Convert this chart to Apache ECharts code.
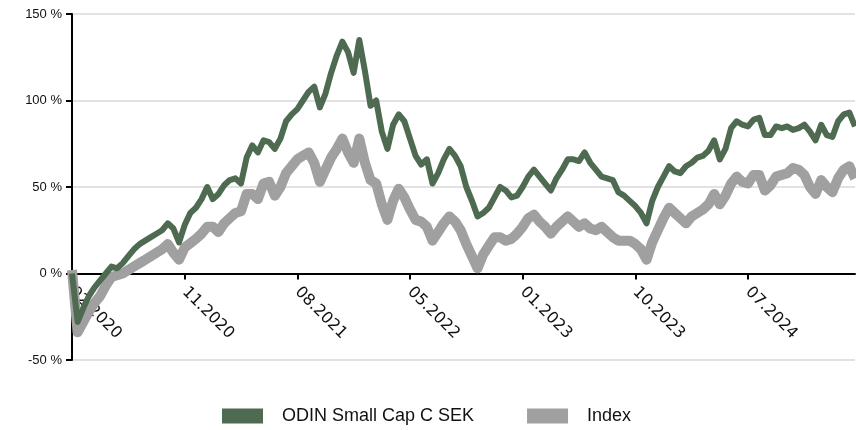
<!DOCTYPE html>
<html>
<head>
<meta charset="utf-8">
<script src="https://cdn.jsdelivr.net/npm/echarts@6/dist/echarts.min.js"></script>
<style>
  html, body { margin: 0; padding: 0; background: #fff; }
  #chart { width: 856px; height: 430px; }
</style>
</head>
<body>
<div id="chart"></div>
<script>
// labels shown under the axis, one every 20 points
const tickLabels = ['02.2020', '11.2020', '08.2021', '05.2022', '01.2023', '10.2023', '07.2024'];
const stepsPerTick = 20;
const yMin = -50, yMax = 150;

// ODIN Small Cap C SEK, development in %
const fundValues = [
  0, -28, -20, -13, -8, -4, 0, 4, 3, 6,
  10, 14, 17, 19, 21, 23, 25, 29, 26, 18,
  28, 35, 38, 43, 50, 43, 46, 51, 54, 55,
  52, 67, 74, 70, 77, 76, 72, 78, 88, 92,
  95, 100, 105, 108, 96, 104, 116, 126, 134, 128,
  116, 135, 117, 97, 100, 82, 72, 86, 92, 88,
  78, 68, 63, 66, 52, 58, 66, 72, 68, 62,
  50, 42, 33, 35, 38, 44, 50, 48, 44, 45,
  50, 56, 60, 56, 52, 48, 55, 60, 66, 66,
  65, 70, 64, 60, 56, 55, 54, 47, 45, 42,
  39, 35, 29, 42, 50, 56, 62, 59, 58, 62,
  64, 67, 68, 71, 77, 66, 72, 84, 88, 86,
  85, 89, 90, 80, 80, 85, 84, 85, 83, 84,
  86, 82, 77, 86, 80, 79, 88, 92, 93, 85
];

// Index, development in %
const indexValues = [
  2, -34, -28, -22, -17, -13, -7, -2, -1, 0,
  2, 4, 6, 8, 10, 12, 14, 17, 12, 8,
  15, 17.5, 20, 23, 27, 27, 24, 29, 32, 35,
  36, 46, 46, 43, 52, 53, 45, 50, 58, 62,
  66, 68, 70, 64, 53, 60, 67, 72, 78, 70,
  64, 78, 64, 54, 52, 40, 31, 42, 49, 44,
  37, 31, 30, 27, 19, 24, 29, 33, 30, 25,
  17, 10, 3, 11, 16, 21, 21, 19, 20, 23,
  27, 32, 34, 30, 27, 23, 27, 30, 33, 30,
  27, 29, 26, 25, 27, 24, 21, 19, 19, 19,
  17, 14, 8, 18, 25, 32, 38, 35, 32, 29,
  33, 35, 37, 40, 46, 40, 45, 52, 56, 53,
  52, 57, 57, 48, 51, 56, 57, 58, 61, 60,
  57, 50, 46, 54, 50, 47, 55, 60, 62, 55
];

const categories = fundValues.map((_, i) =>
  i % stepsPerTick === 0 ? (tickLabels[i / stepsPerTick] || '') : ''
);

const gridTop = 14, gridBottom = 70, chartHeight = 430;
const plotHeight = chartHeight - gridTop - gridBottom;
// move the x axis (line, ticks and labels) up to the 0 % line
const zeroOffset = -plotHeight * (0 - yMin) / (yMax - yMin);

const chart = echarts.init(document.getElementById('chart'));

const option = {
  animation: false,
  backgroundColor: '#fff',
  grid: {
    left: 72,
    right: 1,
    top: gridTop,
    bottom: gridBottom,
    containLabel: false
  },
  legend: {
    left: 217,
    top: 402,
    itemWidth: 41,
    itemHeight: 15,
    itemGap: 53,
    icon: 'rect',
    textStyle: {
      fontFamily: 'Liberation Sans',
      fontSize: 18,
      color: '#111',
      padding: [0, 0, 0, 14]
    },
    data: ['ODIN Small Cap C SEK', 'Index']
  },
  xAxis: {
    type: 'category',
    boundaryGap: false,
    data: categories,
    offset: zeroOffset,
    axisLine: {
      onZero: false,
      lineStyle: { color: '#000', width: 2 }
    },
    axisTick: {
      interval: stepsPerTick - 1,
      length: 6,
      lineStyle: { color: '#000', width: 2 }
    },
    axisLabel: {
      interval: stepsPerTick - 1,
      rotate: -45,
      margin: 16,
      fontFamily: 'DejaVu Sans',
      fontSize: 16,
      color: '#111'
    },
    splitLine: { show: false }
  },
  yAxis: {
    type: 'value',
    min: yMin,
    max: yMax,
    interval: 50,
    axisLine: {
      show: true,
      lineStyle: { color: '#000', width: 2 }
    },
    axisTick: {
      show: true,
      length: 6,
      lineStyle: { color: '#000', width: 2 }
    },
    axisLabel: {
      formatter: '{value} %',
      margin: 10,
      fontFamily: 'Liberation Sans',
      fontSize: 13,
      color: '#111'
    },
    splitLine: {
      lineStyle: { color: '#e2e2e2', width: 2 }
    }
  },
  series: [
    {
      name: 'ODIN Small Cap C SEK',
      type: 'line',
      data: fundValues,
      symbol: 'none',
      z: 3,
      color: '#4e6a50',
      lineStyle: { color: '#4e6a50', width: 6, join: 'round' }
    },
    {
      name: 'Index',
      type: 'line',
      data: indexValues,
      symbol: 'none',
      z: 2,
      color: '#a0a0a0',
      lineStyle: { color: '#a0a0a0', width: 10, join: 'round' }
    }
  ]
};

chart.setOption(option);
</script>
</body>
</html>
